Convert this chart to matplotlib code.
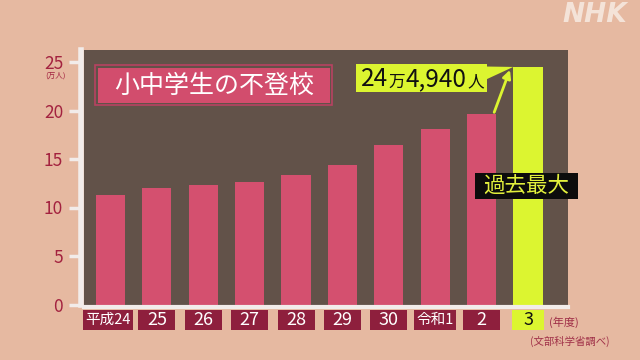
import matplotlib
matplotlib.use("Agg")
import matplotlib.pyplot as plt
from matplotlib.patches import Rectangle, Polygon

plt.rcParams['font.family'] = ['Noto Sans CJK JP', 'DejaVu Sans']

# ---- data ----
years = ["平成24", "25", "26", "27", "28", "29", "30", "令和1", "2", "3"]
values = [11.27, 11.96, 12.29, 12.60, 13.37, 14.40, 16.45, 18.13, 19.61, 24.49]  # 万人
yticks = [0, 5, 10, 15, 20, 25]
title = "小中学生の不登校"
callout_parts = [("24", "big"), ("万", "small"), ("4,940", "big"), ("人", "small")]
record_label = "過去最大"
unit_label = "(万人)"
year_label = "(年度)"
source_label = "(文部科学省調べ)"

# ---- colours ----
BG = "#e6b9a1"
DARK = "#625249"
PINK = "#d4506f"
YELLOW = "#dcf530"
CRIMSON = "#8e1f3d"
TICKTXT = "#a3223f"
WHITE = "#f2ecea"

W, H = 640, 360
fig = plt.figure(figsize=(6.4, 3.6), dpi=100, facecolor=BG)


def fx(x):
    return x / W


def fy(y):
    return 1 - y / H


ax_left, ax_right, ax_top, ax_bot = 84, 568, 50, 304.5
ax = fig.add_axes([fx(ax_left), fy(ax_bot), (ax_right - ax_left) / W, (ax_bot - ax_top) / H])
ax.set_facecolor(DARK)

n = len(values)
colors = [PINK] * (n - 1) + [YELLOW]
ax.bar(range(n), values, width=0.63, color=colors, zorder=2)
ax.set_xlim(-0.57, -0.57 + (ax_right - ax_left) / 46.4)
ax.set_ylim(0, (ax_bot - ax_top) / 9.7)
ax.set_xticks([])
ax.set_yticks(yticks)
ax.set_yticklabels([str(v) for v in yticks])
ax.tick_params(axis='y', colors=WHITE, length=9, width=2.5, pad=4,
               labelcolor=TICKTXT, labelsize=12.5)

for s in ['top', 'right']:
    ax.spines[s].set_visible(False)
ax.spines['left'].set_position(('outward', 2))
ax.spines['left'].set_linewidth(4)
ax.spines['left'].set_color(WHITE)
ax.spines['left'].set_capstyle('projecting')
ax.spines['bottom'].set_position(('outward', 1.5))
ax.spines['bottom'].set_linewidth(3)
ax.spines['bottom'].set_color(WHITE)
ax.spines['bottom'].set_capstyle('projecting')

# unit label
fig.text(fx(55), fy(76), unit_label, color=TICKTXT, fontsize=5.5, ha='center', va='center')

# title box
fig.patches.append(Rectangle((fx(95), fy(105)), (332 - 95) / W, 40 / H, transform=fig.transFigure,
                             facecolor='none', edgecolor="#b84262", lw=1.2))
fig.patches.append(Rectangle((fx(97.5), fy(102.5)), (329.5 - 97.5) / W, 35 / H, transform=fig.transFigure,
                             facecolor="#d24d6d", edgecolor='none'))
fig.text(fx(214), fy(86), title, color='white', fontsize=18, ha='center', va='center')

# arrow from previous bar to the record bar
ax.annotate("", xy=(n - 1 - 0.39, values[-1] - 0.3), xytext=(n - 2 + 0.27, values[-2] + 0.2),
            arrowprops=dict(arrowstyle='-|>', color=YELLOW, lw=2, mutation_scale=12,
                            shrinkA=0, shrinkB=0), zorder=5)

# callout box with pointer
fig.canvas.draw()
r = fig.canvas.get_renderer()
tip = ax.transData.transform((n - 1 - 0.32, values[-1]))
fig.patches.append(Polygon([(fx(485), fy(66.5)), (tip[0] / W, tip[1] / H), (fx(485), fy(80))],
                           closed=True, transform=fig.transFigure, facecolor=YELLOW, edgecolor='none'))
fig.patches.append(Rectangle((fx(356), fy(92.3)), (487 - 356) / W, 28 / H, transform=fig.transFigure,
                             facecolor=YELLOW, edgecolor='none'))
x = 361
for txt, size in callout_parts:
    fs = 17.5 if size == "big" else 12
    t = fig.text(fx(x), fy(86.5), txt, color='#111111', fontsize=fs, ha='left', va='baseline')
    x += t.get_window_extent(r).width + 0.5

# record label
fig.patches.append(Rectangle((fx(475), fy(199)), (578 - 475) / W, 26 / H, transform=fig.transFigure,
                             facecolor="#0c0c0c", edgecolor='none'))
fig.text(fx(526.5), fy(186), record_label, color="#e2f03c", fontsize=15.5, ha='center', va='center')

# x tick label boxes
for i, lab in enumerate(years):
    xc = ax.transData.transform((i, 0))[0]
    if i == 0:
        xc -= 2.5
    last = i == n - 1
    cjk = not lab.isascii()
    fs = 10.5 if cjk else 13
    t = fig.text(xc / W, fy(320), lab, color='#111111' if last else 'white', fontsize=fs,
                 ha='center', va='center', zorder=5)
    w = t.get_window_extent(r).width
    bw = max(w + (5 if cjk else 16), 32 if last else 37)
    fig.patches.append(Rectangle(((xc - bw / 2) / W, fy(330)), bw / W, 20 / H, transform=fig.transFigure,
                                 facecolor=YELLOW if last else CRIMSON, edgecolor='none'))

fig.text(fx(563.5), fy(322), year_label, color="#a03048", fontsize=8, ha='center', va='center')
fig.text(fx(570), fy(341), source_label, color="#a03048", fontsize=7.5, ha='center', va='center')

# NHK mark
fig.text(fx(595), fy(15), "NHK", color="#f6e8df", fontsize=19, fontweight='heavy', style='italic',
         family='DejaVu Sans', ha='center', va='center', alpha=0.9)

fig.savefig("out.png", dpi=100, facecolor=BG)
